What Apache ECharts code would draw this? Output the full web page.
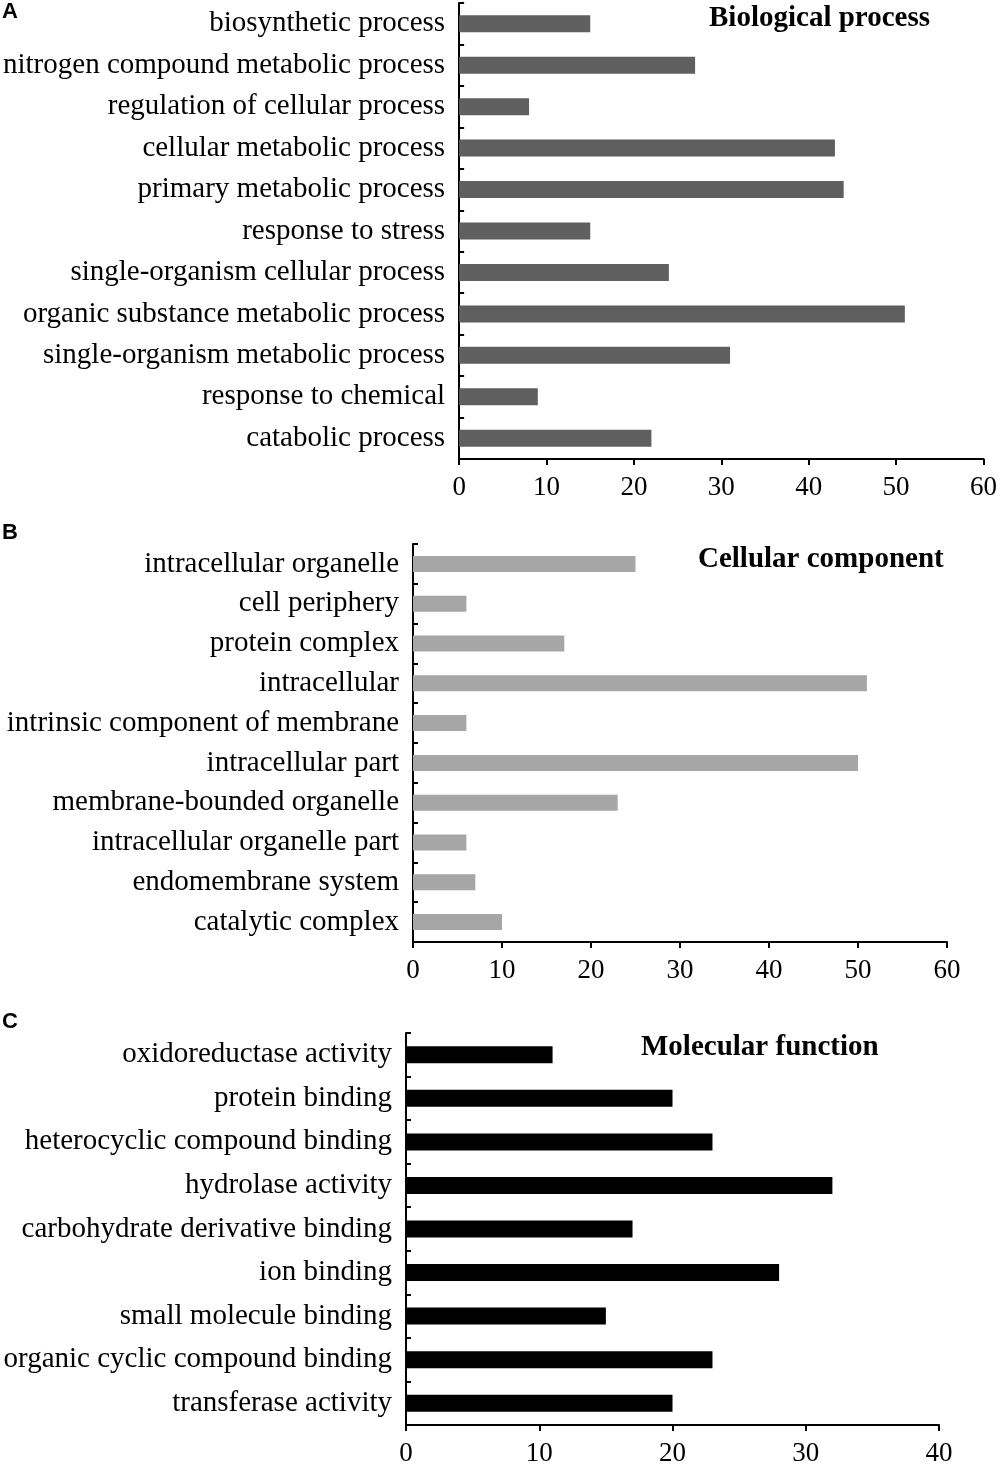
<!DOCTYPE html>
<html>
<head>
<meta charset="utf-8">
<title>GO enrichment</title>
<script src="https://cdn.jsdelivr.net/npm/echarts@6/dist/echarts.min.js"></script>
<style>
  html, body { margin: 0; padding: 0; background: #fff; }
  #chart-container { width: 1000px; height: 1467px; }
</style>
</head>
<body>
<div id="chart-container"></div>
<script>
// Biological process
const bpCategories = [
  "biosynthetic process",
  "nitrogen compound metabolic process",
  "regulation of cellular process",
  "cellular metabolic process",
  "primary metabolic process",
  "response to stress",
  "single-organism cellular process",
  "organic substance metabolic process",
  "single-organism metabolic process",
  "response to chemical",
  "catabolic process",
];
const bpValues = [15, 27, 8, 43, 44, 15, 24, 51, 31, 9, 22];

// Cellular component
const ccCategories = [
  "intracellular organelle",
  "cell periphery",
  "protein complex",
  "intracellular",
  "intrinsic component of membrane",
  "intracellular part",
  "membrane-bounded organelle",
  "intracellular organelle part",
  "endomembrane system",
  "catalytic complex",
];
const ccValues = [25, 6, 17, 51, 6, 50, 23, 6, 7, 10];

// Molecular function
const mfCategories = [
  "oxidoreductase activity",
  "protein binding",
  "heterocyclic compound binding",
  "hydrolase activity",
  "carbohydrate derivative binding",
  "ion binding",
  "small molecule binding",
  "organic cyclic compound binding",
  "transferase activity",
];
const mfValues = [11, 20, 23, 32, 17, 28, 15, 23, 20];

const bpTicks = { min: 0, max: 60, interval: 10 };
const ccTicks = { min: 0, max: 60, interval: 10 };
const mfTicks = { min: 0, max: 40, interval: 10 };

const serif = "'Liberation Serif', 'Times New Roman', serif";
const sans = "'Liberation Sans', Arial, sans-serif";

const chartContainer = document.getElementById("chart-container");
const myChart = echarts.init(chartContainer);

function valueAxis(gridIndex, ticks) {
  return {
    type: "value",
    gridIndex: gridIndex,
    min: ticks.min,
    max: ticks.max,
    interval: ticks.interval,
    splitLine: { show: false },
    axisLine: { show: true, lineStyle: { color: "#000", width: 2 } },
    axisTick: { show: true, length: 6, lineStyle: { color: "#000", width: 2 } },
    axisLabel: { color: "#000", fontFamily: serif, fontSize: 27, margin: 15 },
  };
}

function categoryAxis(gridIndex, data) {
  return {
    type: "category",
    gridIndex: gridIndex,
    data: data,
    inverse: true,
    axisLine: { show: true, lineStyle: { color: "#000", width: 2 } },
    axisTick: { show: true, inside: true, length: 5, lineStyle: { color: "#000", width: 2 } },
    axisLabel: { color: "#000", fontFamily: serif, fontSize: 29, margin: 14 },
  };
}

function panelTitle(text, left, top) {
  return {
    text: text,
    left: left,
    top: top,
    padding: 0,
    textStyle: { fontFamily: serif, fontSize: 29, fontWeight: "bold", color: "#000" },
  };
}

function panelLetter(text, top) {
  return {
    text: text,
    left: 2,
    top: top,
    padding: 0,
    textStyle: { fontFamily: sans, fontSize: 22, fontWeight: "bold", color: "#000" },
  };
}

const option = {
  animation: false,
  title: [
    panelLetter("A", 1),
    panelLetter("B", 522),
    panelLetter("C", 1011),
    panelTitle("Biological process", 709, 4),
    panelTitle("Cellular component", 698, 545),
    panelTitle("Molecular function", 641, 1033),
  ],
  grid: [
    { left: 459, right: 16, top: 3, height: 456 },
    { left: 413, right: 53, top: 544, height: 398 },
    { left: 406, right: 61, top: 1033, height: 394 },
  ],
  xAxis: [valueAxis(0, bpTicks), valueAxis(1, ccTicks), valueAxis(2, mfTicks)],
  yAxis: [
    categoryAxis(0, bpCategories),
    categoryAxis(1, ccCategories),
    categoryAxis(2, mfCategories),
  ],
  series: [
    {
      name: "Biological process",
      type: "bar",
      xAxisIndex: 0,
      yAxisIndex: 0,
      data: bpValues,
      barWidth: 17,
      itemStyle: { color: "#5f5f5f" },
    },
    {
      name: "Cellular component",
      type: "bar",
      xAxisIndex: 1,
      yAxisIndex: 1,
      data: ccValues,
      barWidth: 16,
      itemStyle: { color: "#a6a6a6" },
    },
    {
      name: "Molecular function",
      type: "bar",
      xAxisIndex: 2,
      yAxisIndex: 2,
      data: mfValues,
      barWidth: 17,
      itemStyle: { color: "#000" },
    },
  ],
};

myChart.setOption(option);
</script>
</body>
</html>
